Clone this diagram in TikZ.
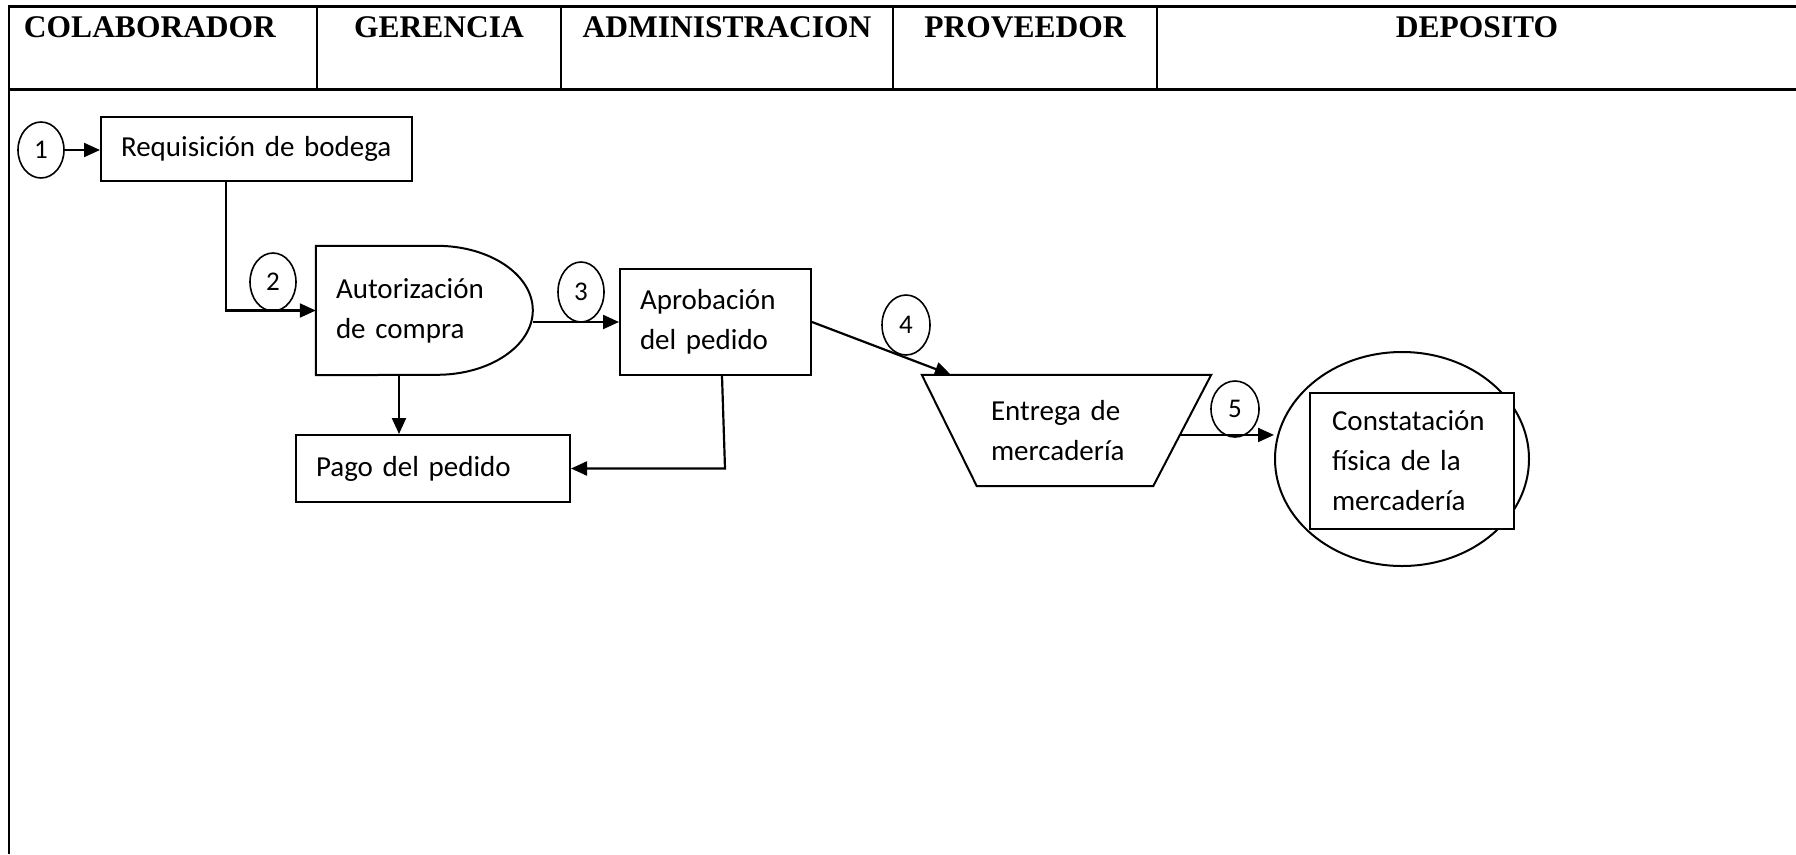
\documentclass[tikz,border=0pt]{standalone}
\usepackage{fontspec}
\setmainfont{Liberation Serif}
\newfontfamily\calfont{Carlito}
\usetikzlibrary{arrows.meta,shapes.geometric,calc}
\begin{document}
\begin{tikzpicture}[x=1pt,y=-1pt,
  hdr/.style={font=\bfseries\fontsize{31.5pt}{36pt}\selectfont, anchor=base, inner sep=0pt},
  body/.style={font=\calfont\fontsize{29pt}{40pt}\selectfont},
  box/.style={body, draw, line width=2pt, inner xsep=20pt, inner ysep=0pt, align=left},
  num/.style={ellipse, draw, line width=1.6pt, inner sep=0pt, font=\calfont\fontsize{27pt}{30pt}\selectfont},
  arr/.style={line width=2.2pt, -{Triangle[length=16pt,width=14pt]}},
  ln/.style={line width=2pt}]
\useasboundingbox (0,0) rectangle (1796,854);
% table
\draw[line width=3pt] (9,6) -- (1796,6);
\draw[line width=3pt] (9,89) -- (1796,89);
\draw[line width=2pt] (9,4.5) -- (9,854);
\foreach \x in {317,561,893,1157} \draw[line width=2pt] (\x,6) -- (\x,89);
\node[hdr] (h1) at (150,37) {COLABORADOR};
\node[hdr] (h2) at (439,37) {GERENCIA};
\node[hdr] (h3) at (727,37) {ADMINISTRACION};
\node[hdr] (h4) at (1025,37) {PROVEEDOR};
\node[hdr] (h5) at (1477,37) {DEPOSITO};
% nodes
\node[num, minimum width=46pt, minimum height=56pt] (c1) at (41,150) {1};
\node[box, text width=271pt, minimum height=64pt] (req) at (256.5,149) {Requisición de bodega};
\node[body, inner xsep=20pt, inner ysep=0pt, text width=177pt, minimum height=129pt, align=left] (aut) at (424.5,310.5) {Autorización\\de compra};
\draw[ln] (aut.south west) -- (aut.north west) -- ++(121,0) arc[start angle=90,end angle=-90,x radius=96pt,y radius=64.5pt] -- cycle;
\node[num, minimum width=46pt, minimum height=58pt] (c2) at (273,282) {2};
\node[box, text width=151pt, minimum height=106pt] (apr) at (715.5,322) {Aprobación\\del pedido};
\node[num, minimum width=46pt, minimum height=60pt] (c3) at (581,292) {3};
\node[body, inner xsep=69pt, inner ysep=0pt, text width=151pt, minimum height=111pt, align=left] (ent) at (1066.5,430.5) {Entrega de\\mercadería};
\draw[ln] (ent.north west) -- (ent.north east) -- ([xshift=-58pt]ent.south east) -- ([xshift=55pt]ent.south west) -- cycle;
\node[num, minimum width=48pt, minimum height=60pt] (c4) at (906,325) {4};
\node[ellipse, draw, line width=2pt, minimum width=254pt, minimum height=214pt, inner sep=0pt] (big) at (1402,459) {};
\node[box, fill=white, inner xsep=22pt, text width=160pt, minimum height=136pt] (cons) at (1412,461) {Constatación\\física de la\\mercadería};
\node[num, minimum width=48pt, minimum height=56pt] (c5) at (1235,409) {5};
\node[box, text width=234pt, minimum height=67pt] (pago) at (433,468.5) {Pago del pedido};
% connectors
\draw[arr] (c1.east) -- (c1.east -| req.west);
\draw[arr] ([xshift=-30.5pt]req.south) |- (aut.west);
\draw[arr] (aut.east |- apr.west) -- (apr.west);
\draw[arr] (apr.east) -- ([xshift=29pt]ent.north west);
\coordinate (e5) at ($(ent.north east)!0.54!([xshift=-58pt]ent.south east)$);
\draw[arr] (e5) -- (e5 -| big.west);
\draw[arr] ([xshift=-25.5pt]aut.south) -- ([xshift=-25.5pt]aut.south |- pago.north);
\draw[arr] ([xshift=6.5pt]apr.south) -- ([xshift=9.5pt]apr.south |- pago.east) -- (pago.east);
\end{tikzpicture}
\end{document}
